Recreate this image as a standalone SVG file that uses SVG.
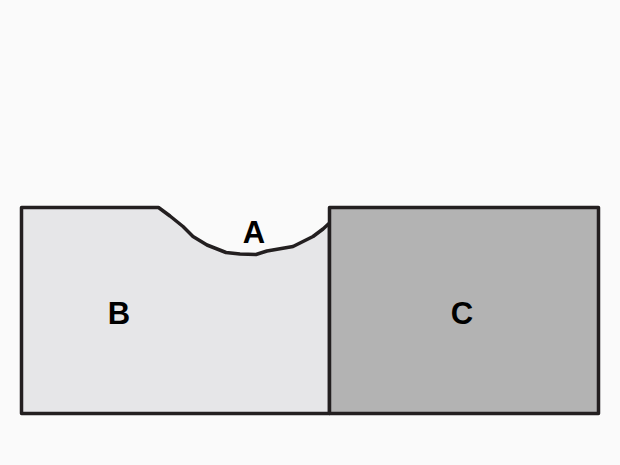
<svg xmlns="http://www.w3.org/2000/svg" width="620" height="465" viewBox="0 0 620 465">
<style>
.o{stroke:#231f20;stroke-width:3.5;stroke-linejoin:round}
.t{font-family:"Liberation Sans",Arial,sans-serif;font-size:31px;font-weight:bold;fill:#000;text-anchor:middle}
</style>
<rect width="620" height="465" fill="#fafafa"/>
<g id="B">
<path class="o" fill="#e6e6e8" d="M21.5,207.5 L158.5,207.5 L170,216 L183,226.5 L193,236.5 L207,245 L226,252.5 L240,254 L256,254.5 L267,251 L293,246.5 L313,236.5 L323,229 L329.5,223 L329.5,413.5 L21.5,413.5 Z"/>
<text class="t" x="119" y="324">B</text>
</g>
<g id="A">
<text class="t" x="254" y="243">A</text>
</g>
<g id="C">
<rect class="o" fill="#b3b3b3" x="329.5" y="207.5" width="269" height="206"/>
<text class="t" x="462" y="324">C</text>
</g>
<g id="connectors"/>
</svg>
